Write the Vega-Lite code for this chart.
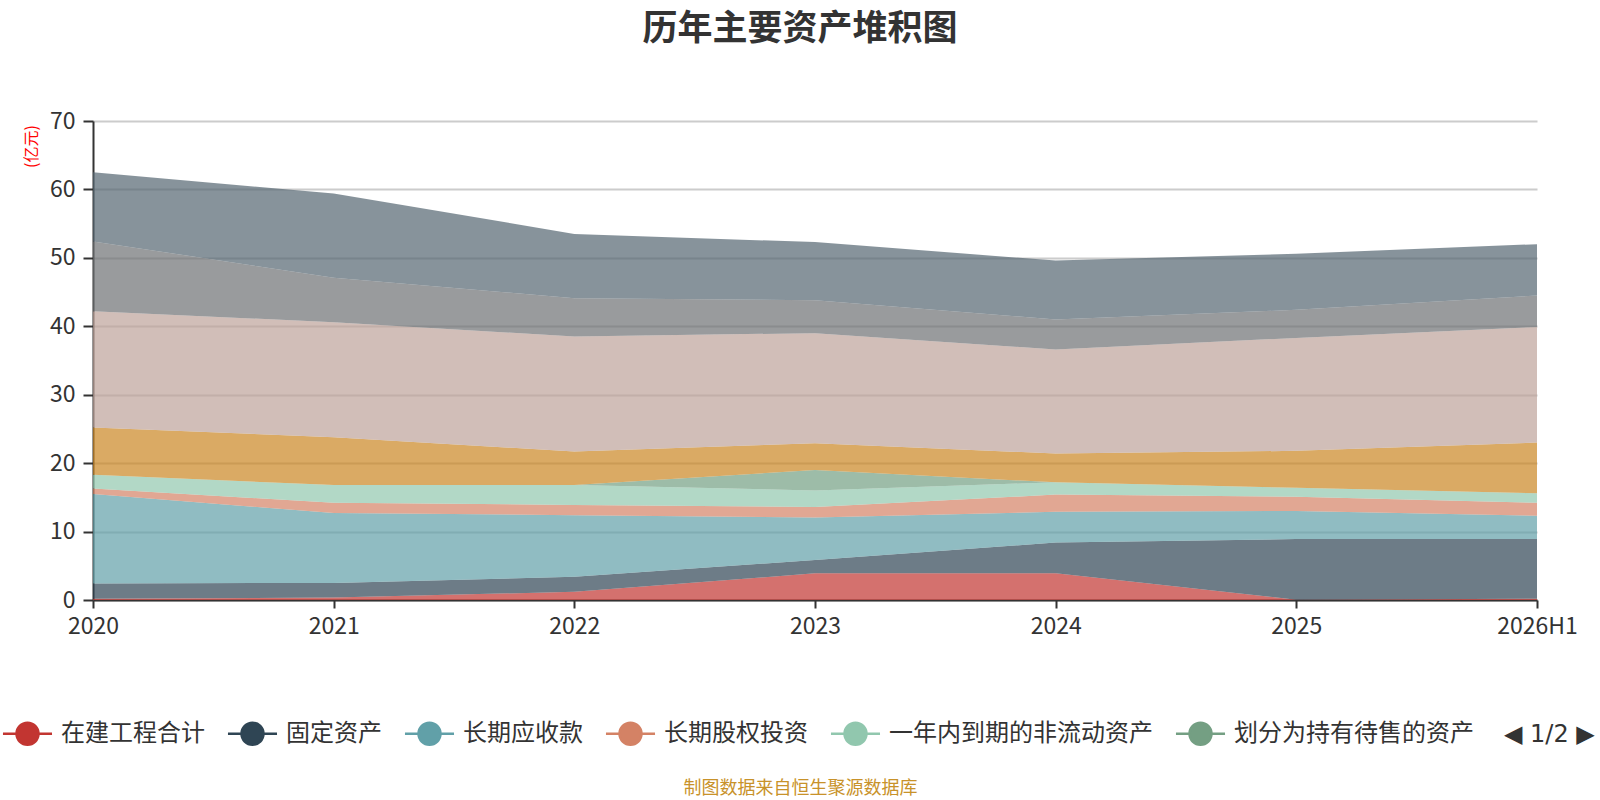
{
  "$schema": "https://vega.github.io/schema/vega-lite/v6.json",
  "autosize": "none",
  "width": 1444,
  "height": 479,
  "padding": {"left": 93, "top": 121, "right": 63, "bottom": 200},
  "background": "white",
  "config": {
    "font": "Noto Sans CJK SC",
    "view": {"stroke": null}
  },
  "title": {
    "text": "历年主要资产堆积图",
    "fontSize": 35,
    "fontWeight": "bold",
    "color": "#333333",
    "anchor": "middle",
    "frame": "group",
    "dx": -15,
    "offset": 46,
    "baseline": "middle"
  },
  "data": {
    "values": [
      {"year": "2020", "name": "在建工程合计", "k": 0, "v": 0.2},
      {"year": "2021", "name": "在建工程合计", "k": 0, "v": 0.35},
      {"year": "2022", "name": "在建工程合计", "k": 0, "v": 1.2},
      {"year": "2023", "name": "在建工程合计", "k": 0, "v": 3.9},
      {"year": "2024", "name": "在建工程合计", "k": 0, "v": 3.9},
      {"year": "2025", "name": "在建工程合计", "k": 0, "v": 0.05},
      {"year": "2026H1", "name": "在建工程合计", "k": 0, "v": 0.2},
      {"year": "2020", "name": "固定资产", "k": 1, "v": 2.2},
      {"year": "2021", "name": "固定资产", "k": 1, "v": 2.15},
      {"year": "2022", "name": "固定资产", "k": 1, "v": 2.2},
      {"year": "2023", "name": "固定资产", "k": 1, "v": 1.95},
      {"year": "2024", "name": "固定资产", "k": 1, "v": 4.5},
      {"year": "2025", "name": "固定资产", "k": 1, "v": 8.85},
      {"year": "2026H1", "name": "固定资产", "k": 1, "v": 8.7},
      {"year": "2020", "name": "长期应收款", "k": 2, "v": 13.1},
      {"year": "2021", "name": "长期应收款", "k": 2, "v": 10.2},
      {"year": "2022", "name": "长期应收款", "k": 2, "v": 9.0},
      {"year": "2023", "name": "长期应收款", "k": 2, "v": 6.2},
      {"year": "2024", "name": "长期应收款", "k": 2, "v": 4.5},
      {"year": "2025", "name": "长期应收款", "k": 2, "v": 4.1},
      {"year": "2026H1", "name": "长期应收款", "k": 2, "v": 3.4},
      {"year": "2020", "name": "长期股权投资", "k": 3, "v": 0.8},
      {"year": "2021", "name": "长期股权投资", "k": 3, "v": 1.5},
      {"year": "2022", "name": "长期股权投资", "k": 3, "v": 1.5},
      {"year": "2023", "name": "长期股权投资", "k": 3, "v": 1.55},
      {"year": "2024", "name": "长期股权投资", "k": 3, "v": 2.5},
      {"year": "2025", "name": "长期股权投资", "k": 3, "v": 2.1},
      {"year": "2026H1", "name": "长期股权投资", "k": 3, "v": 1.9},
      {"year": "2020", "name": "一年内到期的非流动资产", "k": 4, "v": 2.0},
      {"year": "2021", "name": "一年内到期的非流动资产", "k": 4, "v": 2.6},
      {"year": "2022", "name": "一年内到期的非流动资产", "k": 4, "v": 2.9},
      {"year": "2023", "name": "一年内到期的非流动资产", "k": 4, "v": 2.4},
      {"year": "2024", "name": "一年内到期的非流动资产", "k": 4, "v": 1.8},
      {"year": "2025", "name": "一年内到期的非流动资产", "k": 4, "v": 1.3},
      {"year": "2026H1", "name": "一年内到期的非流动资产", "k": 4, "v": 1.4},
      {"year": "2020", "name": "划分为持有待售的资产", "k": 5, "v": 0},
      {"year": "2021", "name": "划分为持有待售的资产", "k": 5, "v": 0},
      {"year": "2022", "name": "划分为持有待售的资产", "k": 5, "v": 0},
      {"year": "2023", "name": "划分为持有待售的资产", "k": 5, "v": 3.0},
      {"year": "2024", "name": "划分为持有待售的资产", "k": 5, "v": 0},
      {"year": "2025", "name": "划分为持有待售的资产", "k": 5, "v": 0},
      {"year": "2026H1", "name": "划分为持有待售的资产", "k": 5, "v": 0},
      {"year": "2020", "name": "存货", "k": 6, "v": 6.9},
      {"year": "2021", "name": "存货", "k": 6, "v": 7.0},
      {"year": "2022", "name": "存货", "k": 6, "v": 4.9},
      {"year": "2023", "name": "存货", "k": 6, "v": 3.9},
      {"year": "2024", "name": "存货", "k": 6, "v": 4.2},
      {"year": "2025", "name": "存货", "k": 6, "v": 5.4},
      {"year": "2026H1", "name": "存货", "k": 6, "v": 7.4},
      {"year": "2020", "name": "货币资金", "k": 7, "v": 17.0},
      {"year": "2021", "name": "货币资金", "k": 7, "v": 16.8},
      {"year": "2022", "name": "货币资金", "k": 7, "v": 16.8},
      {"year": "2023", "name": "货币资金", "k": 7, "v": 16.1},
      {"year": "2024", "name": "货币资金", "k": 7, "v": 15.2},
      {"year": "2025", "name": "货币资金", "k": 7, "v": 16.5},
      {"year": "2026H1", "name": "货币资金", "k": 7, "v": 16.9},
      {"year": "2020", "name": "应收票据及应收账款", "k": 8, "v": 10.2},
      {"year": "2021", "name": "应收票据及应收账款", "k": 8, "v": 6.5},
      {"year": "2022", "name": "应收票据及应收账款", "k": 8, "v": 5.6},
      {"year": "2023", "name": "应收票据及应收账款", "k": 8, "v": 4.8},
      {"year": "2024", "name": "应收票据及应收账款", "k": 8, "v": 4.4},
      {"year": "2025", "name": "应收票据及应收账款", "k": 8, "v": 4.1},
      {"year": "2026H1", "name": "应收票据及应收账款", "k": 8, "v": 4.6},
      {"year": "2020", "name": "其他流动资产", "k": 9, "v": 10.1},
      {"year": "2021", "name": "其他流动资产", "k": 9, "v": 12.3},
      {"year": "2022", "name": "其他流动资产", "k": 9, "v": 9.4},
      {"year": "2023", "name": "其他流动资产", "k": 9, "v": 8.5},
      {"year": "2024", "name": "其他流动资产", "k": 9, "v": 8.6},
      {"year": "2025", "name": "其他流动资产", "k": 9, "v": 8.2},
      {"year": "2026H1", "name": "其他流动资产", "k": 9, "v": 7.5}
    ]
  },
  "mark": {"type": "area", "opacity": 0.7, "interpolate": "linear"},
  "encoding": {
    "x": {
      "field": "year",
      "type": "ordinal",
      "sort": ["2020", "2021", "2022", "2023", "2024", "2025", "2026H1"],
      "scale": {"type": "point", "padding": 0},
      "axis": {
        "title": "制图数据来自恒生聚源数据库",
        "titleColor": "#c8922a",
        "titleFontSize": 18,
        "titleFontWeight": "normal",
        "titleX": 707,
        "titleY": 188,
        "titleAlign": "center",
        "titleBaseline": "middle",
        "labelAngle": 0,
        "labelFontSize": 23,
        "labelColor": "#333333",
        "labelPadding": 7,
        "tickSize": 8,
        "tickWidth": 2,
        "tickColor": "#333333",
        "domainColor": "#333333",
        "domainWidth": 2,
        "grid": false
      }
    },
    "y": {
      "field": "v",
      "type": "quantitative",
      "stack": "zero",
      "scale": {"domain": [0, 70], "nice": false},
      "axis": {
        "values": [0, 10, 20, 30, 40, 50, 60, 70],
        "title": "(亿元)",
        "titleColor": "#ff0000",
        "titleFontSize": 16,
        "titleFontWeight": "normal",
        "titleAngle": -90,
        "titleX": -62,
        "titleY": 25,
        "titleAlign": "center",
        "titleBaseline": "middle",
        "labelFontSize": 23,
        "labelColor": "#333333",
        "labelPadding": 8,
        "tickSize": 10,
        "tickWidth": 2,
        "tickColor": "#333333",
        "domainColor": "#333333",
        "domainWidth": 2,
        "grid": true,
        "gridColor": "#cccccc",
        "gridWidth": 2
      }
    },
    "order": {"field": "k", "type": "quantitative"},
    "color": {
      "field": "name",
      "type": "nominal",
      "scale": {
        "domain": ["在建工程合计", "固定资产", "长期应收款", "长期股权投资", "一年内到期的非流动资产", "划分为持有待售的资产", "存货", "货币资金", "应收票据及应收账款", "其他流动资产"],
        "range": ["#c23531", "#2f4554", "#61a0a8", "#d48265", "#91c7ae", "#749f83", "#ca8622", "#bda29a", "#6e7074", "#546570"]
      },
      "legend": {
        "title": "◀ 1/2 ▶",
        "titleOrient": "right",
        "titleFont": "DejaVu Sans",
        "titleFontSize": 24,
        "titleFontWeight": "normal",
        "titleColor": "#333333",
        "titlePadding": 30,
        "titleBaseline": "middle",
        "titleAnchor": "middle",
        "values": ["在建工程合计", "固定资产", "长期应收款", "长期股权投资", "一年内到期的非流动资产", "划分为持有待售的资产"],
        "orient": "none",
        "direction": "horizontal",
        "legendX": -78,
        "legendY": 600,
        "padding": 0,
        "symbolType": "M-2.23,0H-1M1,0H2.23M-1,0A1,1 0 1,1 1,0A1,1 0 1,1 -1,0Z",
        "symbolSize": 484,
        "symbolStrokeWidth": 2.5,
        "symbolOpacity": 1,
        "labelFontSize": 24,
        "labelLimit": 500,
        "labelColor": "#333333",
        "labelOffset": 21,
        "columnPadding": 17,
        "encode": {
          "symbols": {
            "update": {
              "stroke": {"scale": "color", "field": "value"},
              "fill": {"scale": "color", "field": "value"},
              "opacity": {"value": 1},
              "strokeWidth": {"value": 2.5}
            }
          }
        }
      }
    }
  }
}
